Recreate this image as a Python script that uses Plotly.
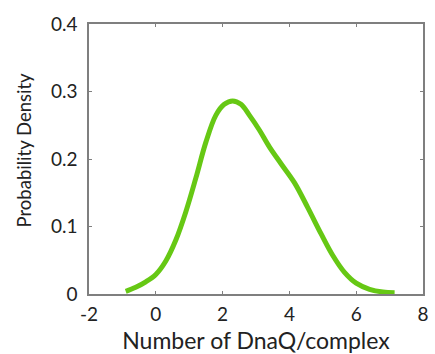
import plotly.graph_objects as go

x_vals = [-0.9, -0.6, -0.3, 0.0, 0.3, 0.6, 0.9, 1.2, 1.5, 1.8, 2.05, 2.3, 2.55, 2.8,
          3.1, 3.4, 3.75, 4.15, 4.55, 4.95, 5.3, 5.65, 6.0, 6.4, 6.8, 7.15]
density = [0.004, 0.010, 0.018, 0.029, 0.049, 0.080, 0.122, 0.172, 0.225, 0.265, 0.281, 0.286,
           0.281, 0.265, 0.243, 0.218, 0.193, 0.165, 0.128, 0.089, 0.057, 0.032, 0.016, 0.007, 0.003, 0.002]

x_ticks = [-2, 0, 2, 4, 6, 8]
x_tick_labels = ["-2", "0", "2", "4", "6", "8"]
y_ticks = [0, 0.1, 0.2, 0.3, 0.4]
y_tick_labels = ["0", "0.1", "0.2", "0.3", "0.4"]

fig = go.Figure()
fig.add_trace(go.Scatter(x=x_vals, y=density, mode="lines",
                         line=dict(color="#66c814", width=5, shape="spline", smoothing=1.0),
                         showlegend=False, hoverinfo="skip"))

axis_common = dict(showline=True, linecolor="#7f7f7f", linewidth=1.5, mirror="ticks",
                   ticks="inside", ticklen=3, tickcolor="#7f7f7f", tickwidth=1,
                   showgrid=False, zeroline=False, automargin=False,
                   tickfont=dict(family="Lato", size=19, color="#222222"))

fig.update_layout(
    width=435, height=354,
    margin=dict(l=89, r=12, t=24, b=60),
    paper_bgcolor="white", plot_bgcolor="white",
    xaxis=dict(range=[-2, 8], tickvals=x_ticks, ticktext=x_tick_labels, ticklabelstandoff=2,
               title=dict(text="Number of DnaQ/complex", font=dict(family="Lato", size=23, color="#222222"), standoff=10),
               **axis_common),
    yaxis=dict(range=[0, 0.4], tickvals=y_ticks, ticktext=y_tick_labels, ticklabelstandoff=6,
               **axis_common),
    annotations=[dict(text="Probability Density", textangle=-90, showarrow=False,
                      xref="paper", yref="paper", x=-0.195, y=0.535,
                      xanchor="center", yanchor="middle",
                      font=dict(family="Lato", size=18.5, color="#222222"))],
)

fig.write_html("out.html")
